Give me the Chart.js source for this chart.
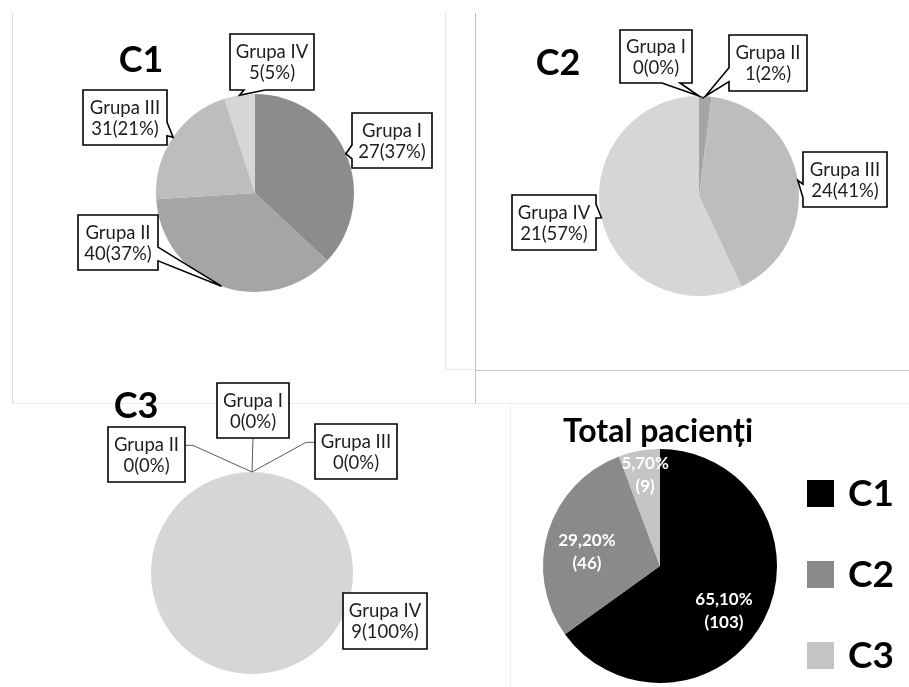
<!DOCTYPE html>
<html>
<head>
<meta charset="utf-8">
<script src="https://cdn.jsdelivr.net/npm/chart.js@4.4.0/dist/chart.umd.min.js"></script>
<style>
html,body{margin:0;padding:0;background:#fff;overflow:hidden;width:909px;height:687px;}
canvas{position:absolute;left:0;top:0;}
.ln{position:absolute;}
</style>
</head>
<body>
<div class="ln" style="left:12px;top:13px;width:1px;height:391px;background:#d9d9d9"></div>
<div class="ln" style="left:445px;top:13px;width:1px;height:357px;background:#e6e6e6"></div>
<div class="ln" style="left:445px;top:369px;width:30px;height:1px;background:#e6e6e6"></div>
<div class="ln" style="left:475px;top:13px;width:1px;height:391px;background:#bdbdbd"></div>
<div class="ln" style="left:475px;top:370px;width:434px;height:1px;background:#c6c6c6"></div>
<div class="ln" style="left:12px;top:403px;width:498px;height:1px;background:#ececec"></div>
<div class="ln" style="left:510px;top:403px;width:1px;height:284px;background:#ececec"></div>
<div class="ln" style="left:510px;top:403px;width:399px;height:1px;background:#f3f3f3"></div>
<canvas id="c1" width="909" height="687"></canvas>
<canvas id="c2" width="909" height="687"></canvas>
<canvas id="c3" width="909" height="687"></canvas>
<canvas id="ct" width="909" height="687"></canvas>
<script>
// ---- data ----
const groupLabels = ['Grupa I', 'Grupa II', 'Grupa III', 'Grupa IV'];
const c1Counts = [27, 40, 31, 5];
const c1Percents = [37, 37, 21, 5];
const c2Counts = [0, 1, 24, 21];
const c2Percents = [0, 2, 41, 57];
const c3Counts = [0, 0, 0, 9];
const c3Percents = [0, 0, 0, 100];
const totalLabels = ['C1', 'C2', 'C3'];
const totalCounts = [103, 46, 9];
const totalPercents = [65.1, 29.2, 5.7];

// ---- styles ----
const groupColors = ['#8c8c8c', '#a5a5a5', '#bdbdbd', '#d6d6d6'];
const totalColors = ['#000000', '#8a8a8a', '#c4c4c4'];
const FONT = 'Lato, "Open Sans", sans-serif';
const W = 909, H = 687;

function padFor(cx, cy) {
  const dx = 2 * cx - W, dy = 2 * cy - H;
  return {
    left: dx > 0 ? dx : 0, right: dx < 0 ? -dx : 0,
    top: dy > 0 ? dy : 0, bottom: dy < 0 ? -dy : 0
  };
}

function arcTip(chart, i) {
  const a = chart.getDatasetMeta(0).data[i];
  const p = a.getProps(['x', 'y', 'startAngle', 'endAngle', 'outerRadius'], true);
  const mid = (p.startAngle + p.endAngle) / 2;
  return [p.x + Math.cos(mid) * p.outerRadius, p.y + Math.sin(mid) * p.outerRadius, p, mid];
}

function wedgePath(ctx, bx, by, w, h, tx, ty) {
  const cx = bx + w / 2, cy = by + h / 2;
  const dxPos = tx - cx, dyPos = ty - cy;
  const horiz = Math.abs(dxPos * h) > Math.abs(dyPos * w);
  const x1 = bx + w * (dxPos > 0 ? 7 : 2) / 12, x2 = bx + w * (dxPos > 0 ? 10 : 5) / 12;
  const y1 = by + h * (dyPos > 0 ? 7 : 2) / 12, y2 = by + h * (dyPos > 0 ? 10 : 5) / 12;
  ctx.beginPath();
  ctx.moveTo(bx, by);
  if (!horiz && dyPos < 0) { ctx.lineTo(x1, by); ctx.lineTo(tx, ty); ctx.lineTo(x2, by); }
  ctx.lineTo(bx + w, by);
  if (horiz && dxPos > 0) { ctx.lineTo(bx + w, y1); ctx.lineTo(tx, ty); ctx.lineTo(bx + w, y2); }
  ctx.lineTo(bx + w, by + h);
  if (!horiz && dyPos > 0) { ctx.lineTo(x2, by + h); ctx.lineTo(tx, ty); ctx.lineTo(x1, by + h); }
  ctx.lineTo(bx, by + h);
  if (horiz && dxPos < 0) { ctx.lineTo(bx, y2); ctx.lineTo(tx, ty); ctx.lineTo(bx, y1); }
  ctx.closePath();
}

function calloutPlugin(cfg) {
  return {
    id: 'callouts',
    afterDraw(chart) {
      const ctx = chart.ctx;
      const labels = chart.data.labels;
      ctx.save();
      ctx.fillStyle = '#000';
      ctx.font = 'bold ' + cfg.title.size + 'px ' + FONT;
      ctx.textAlign = 'center';
      ctx.textBaseline = 'alphabetic';
      ctx.fillText(cfg.title.text, cfg.title.x, cfg.title.y);
      cfg.boxes.forEach((b, i) => {
        const [tx, ty] = arcTip(chart, i);
        ctx.lineWidth = 1.6;
        ctx.strokeStyle = '#000';
        ctx.fillStyle = '#fff';
        if (b.mode === 'leader') {
          ctx.save();
          ctx.strokeStyle = '#595959';
          ctx.lineWidth = 1;
          ctx.beginPath();
          if (tx >= b.x && tx <= b.x + b.w) {
            ctx.moveTo(b.x + b.w / 2, b.y + b.h);
            ctx.lineTo(tx, ty);
          } else if (tx > b.x + b.w) {
            const yy = b.y + b.h / 3;
            ctx.moveTo(b.x + b.w, yy); ctx.lineTo(b.x + b.w + 8, yy); ctx.lineTo(tx, ty);
          } else {
            const yy = b.y + b.h / 3;
            ctx.moveTo(b.x, yy); ctx.lineTo(b.x - 9, yy); ctx.lineTo(tx, ty);
          }
          ctx.stroke();
          ctx.restore();
          ctx.beginPath();
          ctx.rect(b.x, b.y, b.w, b.h);
        } else if (b.mode === 'wedge') {
          wedgePath(ctx, b.x, b.y, b.w, b.h, tx, ty);
        } else {
          ctx.beginPath();
          ctx.rect(b.x, b.y, b.w, b.h);
        }
        ctx.fill();
        ctx.stroke();
        ctx.fillStyle = '#1e1e1e';
        ctx.font = '18.5px ' + FONT;
        ctx.textAlign = 'center';
        ctx.textBaseline = 'alphabetic';
        const cx = b.x + b.w / 2;
        ctx.fillText(labels[i], cx, b.y + b.h / 2 - 4);
        ctx.fillText(cfg.counts[i] + '(' + cfg.percents[i] + '%)', cx, b.y + b.h / 2 + 17);
      });
      ctx.restore();
    }
  };
}

function pieChart(id, labels, values, colors, cx, cy, r, plugins) {
  return new Chart(document.getElementById(id), {
    type: 'pie',
    data: {
      labels: labels,
      datasets: [{
        data: values,
        backgroundColor: colors,
        borderWidth: 0
      }]
    },
    options: {
      responsive: false,
      animation: false,
      events: [],
      radius: r,
      layout: { padding: padFor(cx, cy) },
      plugins: { legend: { display: false }, tooltip: { enabled: false }, title: { display: false } }
    },
    plugins: plugins
  });
}

pieChart('c1', groupLabels, c1Percents, groupColors, 255, 193, 99, [calloutPlugin({
  title: { text: 'C1', x: 141, y: 72, size: 36 },
  counts: c1Counts, percents: c1Percents,
  boxes: [
    { x: 352, y: 113, w: 80, h: 55, mode: 'wedge' },
    { x: 78, y: 215, w: 80, h: 55, mode: 'wedge' },
    { x: 83, y: 90, w: 84, h: 55, mode: 'wedge' },
    { x: 230, y: 34, w: 84, h: 56, mode: 'wedge' }
  ]
})]);

pieChart('c2', groupLabels, c2Percents, groupColors, 699, 196, 100, [calloutPlugin({
  title: { text: 'C2', x: 558, y: 75, size: 36 },
  counts: c2Counts, percents: c2Percents,
  boxes: [
    { x: 620, y: 30, w: 72, h: 53, mode: 'wedge' },
    { x: 729, y: 35, w: 78, h: 56, mode: 'wedge' },
    { x: 803, y: 152, w: 84, h: 55, mode: 'wedge' },
    { x: 512, y: 195, w: 84, h: 55, mode: 'wedge' }
  ]
})]);

pieChart('c3', groupLabels, c3Percents, groupColors, 252, 573, 101, [calloutPlugin({
  title: { text: 'C3', x: 136, y: 418, size: 36 },
  counts: c3Counts, percents: c3Percents,
  boxes: [
    { x: 217, y: 383, w: 72, h: 55, mode: 'leader' },
    { x: 108, y: 427, w: 77, h: 55, mode: 'leader' },
    { x: 315, y: 424, w: 82, h: 55, mode: 'leader' },
    { x: 343, y: 593, w: 84, h: 56, mode: 'none' }
  ]
})]);

const totalPlugin = {
  id: 'totalDecor',
  afterDraw(chart) {
    const ctx = chart.ctx;
    const ds = chart.data.datasets[0];
    ctx.save();
    ctx.fillStyle = '#000';
    ctx.font = 'bold 32px ' + FONT;
    ctx.textAlign = 'center';
    ctx.textBaseline = 'alphabetic';
    ctx.fillText('Total pacienți', 658, 442);
    // data labels
    const frac = [0.665, 0.636, 0.79];
    const shift = [7.5, -6, 1];
    ctx.fillStyle = '#fff';
    ctx.font = 'bold 17px ' + FONT;
    ctx.textBaseline = 'middle';
    ds.data.forEach((v, i) => {
      const [, , p, mid] = arcTip(chart, i);
      const ang = mid + shift[i] * Math.PI / 180;
      const x = p.x + Math.cos(ang) * p.outerRadius * frac[i];
      const y = p.y + Math.sin(ang) * p.outerRadius * frac[i];
      ctx.fillText(v.toFixed(2).replace('.', ',') + '%', x, y - 11);
      ctx.fillText('(' + totalCounts[i] + ')', x, y + 12);
    });
    // legend
    ctx.textAlign = 'left';
    ctx.textBaseline = 'alphabetic';
    ctx.font = 'bold 37px ' + FONT;
    chart.data.labels.forEach((lab, i) => {
      const top = 480 + i * 81;
      ctx.fillStyle = ds.backgroundColor[i];
      ctx.fillRect(807, top, 27, 27);
      ctx.fillStyle = '#000';
      ctx.fillText(lab, 848, top + 26);
    });
    ctx.restore();
  }
};

pieChart('ct', totalLabels, totalPercents, totalColors, 660, 566, 117, [totalPlugin]);
</script>
</body>
</html>
